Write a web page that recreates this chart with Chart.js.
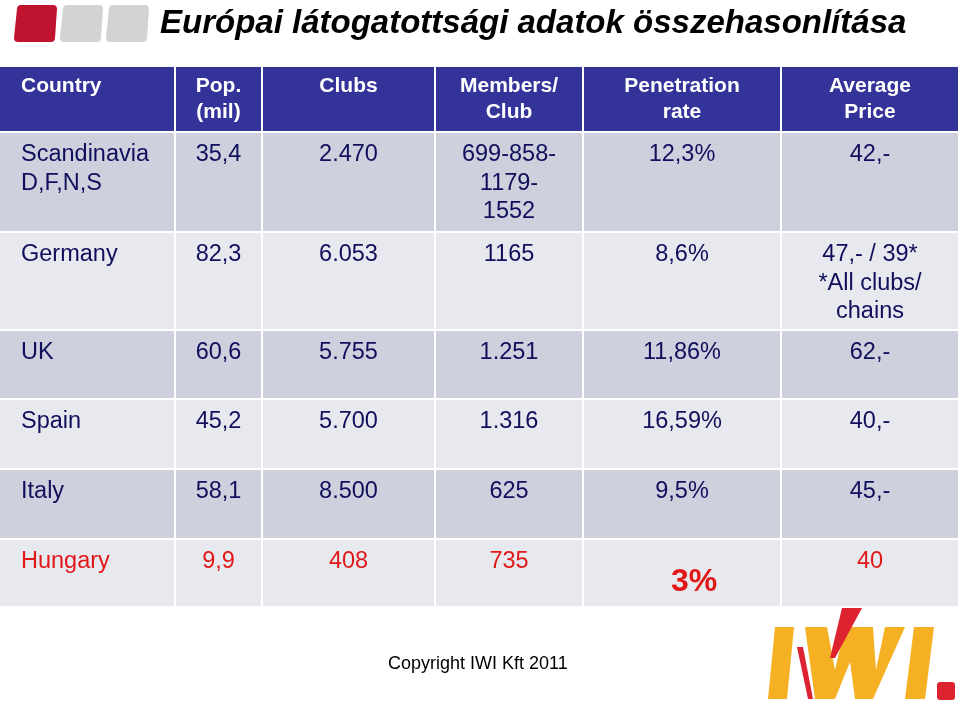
<!DOCTYPE html>
<html>
<head>
<meta charset="utf-8">
<title>Európai látogatottsági adatok összehasonlítása</title>
<script src="https://cdn.jsdelivr.net/npm/chart.js@4.4.1/dist/chart.umd.min.js"></script>
<style>
  html, body { margin: 0; padding: 0; background: #fff; }
  canvas { display: block; }
</style>
</head>
<body>
<canvas id="tableChart" width="960" height="704"></canvas>
<script>
// table data
const titleText = 'Európai látogatottsági adatok összehasonlítása';
const headers = ['Country', 'Pop.\n(mil)', 'Clubs', 'Members/\nClub', 'Penetration\nrate', 'Average\nPrice'];
const countries = ['Scandinavia\nD,F,N,S', 'Germany', 'UK', 'Spain', 'Italy', 'Hungary'];
const population = ['35,4', '82,3', '60,6', '45,2', '58,1', '9,9'];
const clubs = ['2.470', '6.053', '5.755', '5.700', '8.500', '408'];
const membersPerClub = ['699-858-\n1179-\n1552', '1165', '1.251', '1.316', '625', '735'];
const penetration = ['12,3%', '8,6%', '11,86%', '16,59%', '9,5%', '3%'];
const avgPrice = ['42,-', '47,- / 39*\n*All clubs/\nchains', '62,-', '40,-', '45,-', '40'];
const highlightCountry = 'Hungary';
const footerText = 'Copyright IWI Kft 2011';

// layout, in units of the hidden scales
const colEdges = [0, 175, 262, 435, 583, 781, 959];
const rowEdges = [67, 132, 232, 330, 399, 469, 539, 607];

const FONT = '"Liberation Sans", Arial, sans-serif';
const headerBg = '#333399';
const rowBg = ['#cfd0de', '#e8e9ef'];
const textColor = '#0f0f5c';
const red = '#e01818';

const bodyCols = [countries, population, clubs, membersPerClub, penetration, avgPrice];

// draws the whole table through the chart's x / y scales
const tablePlugin = {
  id: 'tablePlugin',
  beforeDraw(chart) {
    const ctx = chart.ctx;
    ctx.save();
    ctx.fillStyle = '#ffffff';
    ctx.fillRect(0, 0, chart.width, chart.height);
    ctx.restore();
  },
  afterDraw(chart) {
    const ctx = chart.ctx;
    const xs = chart.scales.x;
    const ys = chart.scales.y;
    const px = v => xs.getPixelForValue(v);
    const py = v => ys.getPixelForValue(v);

    const poly = function(pts, color) {
      ctx.fillStyle = color;
      ctx.beginPath();
      pts.forEach(function(p, i) {
        if (i === 0) ctx.moveTo(px(p[0]), py(p[1]));
        else ctx.lineTo(px(p[0]), py(p[1]));
      });
      ctx.closePath();
      ctx.fill();
    };

    ctx.save();

    // logo squares in the corner (slightly slanted, rounded)
    const squares = [[14, '#c0132f'], [60, '#d3d3d3'], [106, '#d3d3d3']];
    squares.forEach(function(s) {
      const x = s[0];
      ctx.fillStyle = s[1];
      ctx.lineJoin = 'round';
      ctx.strokeStyle = s[1];
      ctx.lineWidth = 8;
      ctx.beginPath();
      ctx.moveTo(px(x + 7), py(9));
      ctx.lineTo(px(x + 39), py(9));
      ctx.lineTo(px(x + 37), py(38));
      ctx.lineTo(px(x + 4), py(38));
      ctx.closePath();
      ctx.fill();
      ctx.stroke();
    });

    // title
    ctx.fillStyle = '#000000';
    ctx.font = 'italic bold 33px ' + FONT;
    ctx.textAlign = 'left';
    ctx.textBaseline = 'alphabetic';
    ctx.fillText(titleText, px(160), py(33));

    // cells
    const nRows = countries.length + 1;
    for (let r = 0; r < nRows; r++) {
      for (let c = 0; c < headers.length; c++) {
        const x0 = px(colEdges[c]) + (c > 0 ? 1 : 0);
        const x1 = px(colEdges[c + 1]) - 1;
        const y0 = py(rowEdges[r]) + (r > 0 ? 1 : 0);
        const y1 = py(rowEdges[r + 1]) - 1;
        ctx.fillStyle = r === 0 ? headerBg : rowBg[(r - 1) % 2];
        ctx.fillRect(x0, y0, x1 - x0, y1 - y0);

        let text, font, color, firstBase, lineH, dx = 0;
        if (r === 0) {
          text = headers[c];
          font = 'bold 21px ' + FONT;
          color = '#ffffff';
          firstBase = 25;
          lineH = 26;
        } else {
          text = bodyCols[c][r - 1];
          const hot = countries[r - 1] === highlightCountry;
          font = '23.5px ' + FONT;
          color = hot ? red : textColor;
          firstBase = 29;
          lineH = 28.5;
          if (hot && bodyCols[c] === penetration) {
            font = 'bold 32px ' + FONT;
            firstBase = 52;
            dx = 12;
          }
        }
        ctx.font = font;
        ctx.fillStyle = color;
        let tx;
        if (c === 0) {
          ctx.textAlign = 'left';
          tx = px(colEdges[0] + 21);
        } else {
          ctx.textAlign = 'center';
          tx = px((colEdges[c] + colEdges[c + 1]) / 2 + dx);
        }
        text.split('\n').forEach(function(line, i) {
          ctx.fillText(line, tx, py(rowEdges[r] + firstBase + i * lineH));
        });
      }
    }

    // footer
    ctx.fillStyle = '#000000';
    ctx.font = '18px ' + FONT;
    ctx.textAlign = 'left';
    ctx.fillText(footerText, px(388), py(669));

    // IWI logo
    const yellow = '#f5b023';
    const logoRed = '#dd2230';
    poly([[775, 627], [794, 627], [787, 699], [768, 699]], yellow);
    poly([[797, 647], [803, 647], [813, 699], [808, 699]], logoRed);
    poly([[805, 627], [827, 627], [835, 670], [845, 627], [873, 627], [876, 670],
          [885, 627], [905, 627], [873, 699], [855, 699], [850, 662], [835, 699], [815, 699]], yellow);
    poly([[842, 608], [862, 608], [835, 658], [830, 658]], logoRed);
    poly([[914, 627], [934, 627], [925, 699], [905, 699]], yellow);
    ctx.fillStyle = logoRed;
    ctx.beginPath();
    ctx.roundRect(px(937), py(682), px(955) - px(937), py(700) - py(682), 3);
    ctx.fill();

    ctx.restore();
  }
};

new Chart(document.getElementById('tableChart').getContext('2d'), {
  type: 'scatter',
  data: { datasets: [] },
  options: {
    responsive: false,
    animation: false,
    layout: { padding: 0 },
    plugins: {
      legend: { display: false },
      tooltip: { enabled: false }
    },
    scales: {
      x: { type: 'linear', min: 0, max: 960, display: false },
      y: { type: 'linear', min: 0, max: 704, reverse: true, display: false }
    }
  },
  plugins: [tablePlugin]
});
</script>
</body>
</html>
